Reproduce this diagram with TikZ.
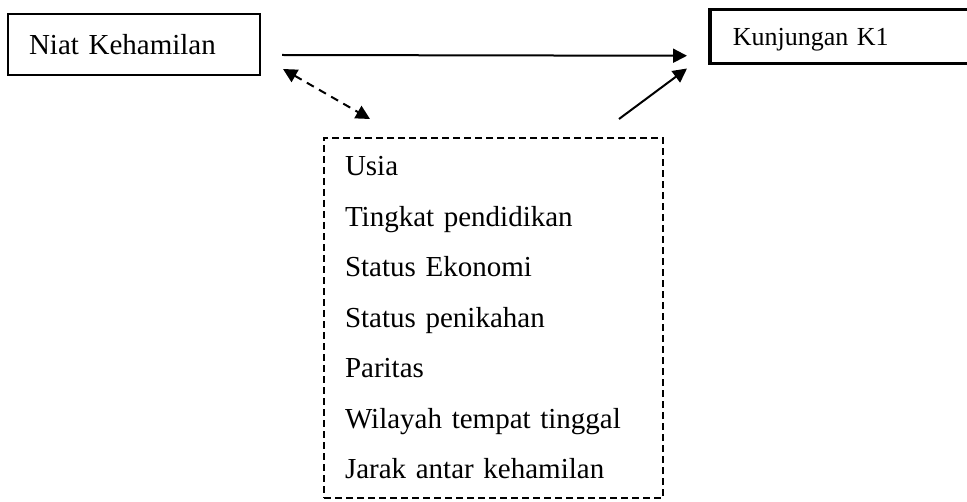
\documentclass[tikz,border=0pt]{standalone}
\usepackage{fontspec}
\setmainfont{Liberation Serif}
\usetikzlibrary{arrows.meta}

\begin{document}
\begin{tikzpicture}[x=0.5pt,y=-0.5pt,->,line width=1pt,>={Triangle[length=7pt,width=7pt]}]
    \tikzstyle{box}=[draw, anchor=north west, align=left, inner ysep=0pt, text=black]
    \tikzstyle{niatbox}=[style=box, text width=105pt, inner xsep=10.5pt, minimum height=30.5pt, font=\fontsize{14.5}{17}\selectfont]
    \tikzstyle{kbox}=[style=box, line width=1.75pt, text width=113pt, inner xsep=11.5pt, minimum height=27pt, text depth=0pt, font=\fontsize{13}{15}\selectfont]
    \tikzstyle{faktorbox}=[style=box, dash pattern=on 3.5pt off 2pt, text width=148.5pt, inner xsep=10.5pt, minimum height=180pt, font=\fontsize{14.5}{25.25}\selectfont]
    \tikzstyle{dasharrow}=[<->, dash pattern=on 4pt off 3pt]

    \useasboundingbox (0,0) rectangle (967,502);

    \node[niatbox]   (niat)   at (7,13)   {Niat Kehamilan};
    \node[kbox]      (k1)     at (708,8)  {Kunjungan K1};
    \node[faktorbox] (faktor) at (323,137) {Usia\\
      Tingkat pendidikan\\
      Status Ekonomi\\
      Status penikahan\\
      Paritas\\
      Wilayah tempat tinggal\\
      Jarak antar kehamilan};

    \path
     ([shift={(21,10.5)}]niat.east) edge ([shift={(-21,19)}]k1.west)
     ([shift={(22,-7)}]niat.south east) edge[dasharrow] ([shift={(47,-18)}]faktor.north west)
     ([shift={(-45,-18)}]faktor.north east) edge ([shift={(-21,3)}]k1.south west);
\end{tikzpicture}
\end{document}
